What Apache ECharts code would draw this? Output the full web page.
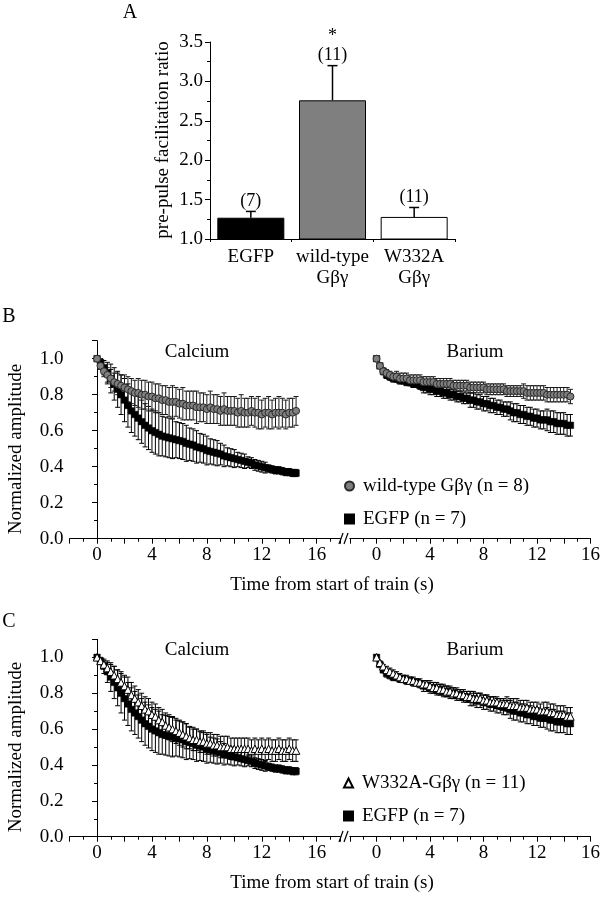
<!DOCTYPE html>
<html>
<head>
<meta charset="utf-8">
<script src="https://cdn.jsdelivr.net/npm/echarts@6/dist/echarts.min.js"></script>
<style>html,body{margin:0;padding:0;background:#fff;}#c{width:603px;height:899px;}</style>
</head>
<body>
<div id="c"></div>
<script>
// ---------- Panel A data ----------
const barCats = ['EGFP', 'wild-type\nGβγ', 'W332A\nGβγ'];
const barMeans = [1.27, 2.76, 1.28];
const barErrs = [0.08, 0.44, 0.12];
const barN = ['(7)', '(11)', '(11)'];
const barSig = ['', '*', ''];

// ---------- Panels B / C data (time in s) ----------
const times = [0,0.25,0.5,0.75,1,1.25,1.5,1.75,2,2.25,2.5,2.75,3,3.25,3.5,3.75,4,4.25,4.5,4.75,5,5.25,5.5,5.75,6,6.25,6.5,6.75,7,7.25,7.5,7.75,8,8.25,8.5,8.75,9,9.25,9.5,9.75,10,10.25,10.5,10.75,11,11.25,11.5,11.75,12,12.25,12.5,12.75,13,13.25,13.5,13.75,14,14.25,14.5];

const egfpCa = [1.00,0.98,0.95,0.92,0.89,0.86,0.83,0.80,0.77,0.74,
  0.71,0.69,0.67,0.65,0.63,0.615,0.60,0.59,0.58,0.57,
  0.565,0.56,0.555,0.55,0.545,0.54,0.53,0.525,0.52,0.51,
  0.505,0.50,0.49,0.485,0.48,0.475,0.47,0.46,0.455,0.45,
  0.445,0.44,0.435,0.43,0.425,0.42,0.41,0.405,0.40,0.395,
  0.39,0.385,0.38,0.38,0.375,0.37,0.37,0.365,0.365];
const egfpCaErr = [0,0.02,0.04,0.06,0.08,0.09,0.10,0.11,0.12,0.12,
  0.12,0.12,0.12,0.12,0.12,0.12,0.12,0.12,0.12,0.11,
  0.11,0.11,0.11,0.10,0.10,0.10,0.10,0.09,0.09,0.09,
  0.08,0.08,0.08,0.07,0.07,0.07,0.06,0.06,0.05,0.05,
  0.05,0.04,0.04,0.04,0.03,0.03,0.03,0.03,0.03,0.03,
  0.02,0.02,0.02,0.02,0.02,0.02,0.02,0.02,0.02];

const wtCa = [1.00,0.96,0.93,0.91,0.89,0.87,0.86,0.85,0.84,0.83,
  0.82,0.81,0.81,0.80,0.80,0.79,0.79,0.78,0.78,0.77,
  0.77,0.76,0.76,0.76,0.75,0.75,0.74,0.74,0.74,0.73,
  0.73,0.73,0.72,0.73,0.72,0.72,0.71,0.72,0.71,0.71,
  0.71,0.70,0.71,0.70,0.70,0.71,0.70,0.70,0.69,0.70,
  0.70,0.69,0.70,0.70,0.70,0.69,0.70,0.70,0.71];
const wtCaErr = [0,0.02,0.03,0.04,0.05,0.05,0.06,0.06,0.07,0.07,
  0.07,0.07,0.08,0.08,0.08,0.08,0.08,0.08,0.08,0.08,
  0.08,0.08,0.09,0.08,0.08,0.09,0.08,0.08,0.08,0.09,
  0.08,0.08,0.08,0.09,0.08,0.08,0.08,0.09,0.08,0.08,
  0.08,0.08,0.09,0.08,0.08,0.08,0.08,0.09,0.08,0.08,
  0.09,0.08,0.08,0.09,0.08,0.08,0.08,0.08,0.08];

const wtBa = [1.00,0.96,0.93,0.92,0.91,0.90,0.90,0.89,0.89,0.89,
  0.88,0.88,0.88,0.88,0.87,0.87,0.87,0.87,0.86,0.86,
  0.86,0.86,0.86,0.85,0.85,0.85,0.85,0.85,0.84,0.84,
  0.84,0.84,0.84,0.83,0.83,0.83,0.83,0.83,0.83,0.82,
  0.82,0.82,0.82,0.82,0.82,0.81,0.81,0.81,0.81,0.81,
  0.81,0.80,0.80,0.80,0.80,0.80,0.80,0.80,0.79];
const wtBaErr = [0,0.01,0.02,0.02,0.02,0.02,0.03,0.03,0.03,0.03,
  0.03,0.03,0.03,0.03,0.03,0.03,0.03,0.03,0.03,0.03,
  0.03,0.03,0.03,0.03,0.03,0.03,0.03,0.03,0.03,0.03,
  0.03,0.03,0.03,0.03,0.03,0.03,0.03,0.03,0.03,0.03,
  0.03,0.03,0.03,0.03,0.04,0.04,0.04,0.04,0.04,0.04,
  0.04,0.04,0.04,0.04,0.04,0.04,0.04,0.04,0.04];

const egfpBa = [1.00,0.96,0.93,0.91,0.90,0.89,0.89,0.88,0.88,0.87,
  0.87,0.86,0.86,0.85,0.84,0.84,0.83,0.83,0.82,0.82,
  0.81,0.81,0.80,0.80,0.79,0.79,0.78,0.78,0.77,0.77,
  0.76,0.76,0.75,0.75,0.74,0.74,0.73,0.73,0.72,0.72,
  0.71,0.70,0.70,0.69,0.69,0.68,0.68,0.67,0.67,0.66,
  0.66,0.66,0.65,0.65,0.64,0.64,0.64,0.63,0.63];
const egfpBaErr = [0,0.01,0.01,0.02,0.02,0.02,0.02,0.02,0.02,0.02,
  0.02,0.02,0.02,0.02,0.03,0.03,0.03,0.03,0.03,0.03,
  0.03,0.03,0.03,0.03,0.03,0.03,0.03,0.03,0.04,0.04,
  0.04,0.04,0.04,0.04,0.04,0.04,0.04,0.04,0.04,0.04,
  0.05,0.05,0.05,0.05,0.05,0.05,0.05,0.05,0.05,0.05,
  0.05,0.06,0.06,0.06,0.06,0.06,0.06,0.06,0.06];

const w332aCa = [1.00,0.98,0.96,0.94,0.92,0.90,0.88,0.86,0.84,0.82,
  0.79,0.77,0.75,0.73,0.71,0.70,0.68,0.67,0.65,0.64,
  0.62,0.61,0.60,0.59,0.58,0.57,0.56,0.55,0.54,0.54,
  0.53,0.53,0.52,0.52,0.51,0.51,0.50,0.50,0.50,0.49,
  0.49,0.49,0.49,0.49,0.49,0.48,0.49,0.48,0.49,0.48,
  0.49,0.48,0.48,0.49,0.48,0.48,0.49,0.48,0.48];
const w332aCaErr = [0,0.01,0.02,0.03,0.04,0.05,0.05,0.06,0.06,0.07,
  0.07,0.07,0.07,0.07,0.07,0.07,0.07,0.07,0.07,0.07,
  0.07,0.07,0.07,0.07,0.07,0.07,0.07,0.06,0.06,0.06,
  0.06,0.06,0.06,0.06,0.06,0.06,0.06,0.06,0.06,0.06,
  0.06,0.06,0.06,0.06,0.06,0.06,0.06,0.06,0.06,0.06,
  0.06,0.06,0.06,0.06,0.06,0.06,0.06,0.06,0.06];

const w332aBa = [1.00,0.97,0.95,0.93,0.92,0.91,0.90,0.89,0.88,0.88,
  0.87,0.87,0.86,0.86,0.85,0.85,0.84,0.83,0.83,0.82,
  0.82,0.81,0.81,0.80,0.80,0.79,0.79,0.78,0.78,0.77,
  0.77,0.77,0.76,0.76,0.75,0.75,0.75,0.74,0.74,0.74,
  0.73,0.73,0.73,0.72,0.72,0.72,0.71,0.71,0.71,0.70,
  0.70,0.70,0.69,0.69,0.68,0.68,0.68,0.67,0.67];
const w332aBaErr = [0,0.01,0.01,0.02,0.02,0.02,0.02,0.02,0.02,0.02,
  0.02,0.02,0.02,0.02,0.02,0.02,0.03,0.03,0.03,0.03,
  0.03,0.03,0.03,0.03,0.03,0.03,0.03,0.03,0.03,0.03,
  0.03,0.03,0.03,0.03,0.03,0.03,0.03,0.03,0.03,0.04,
  0.04,0.04,0.04,0.04,0.04,0.04,0.04,0.04,0.04,0.04,
  0.05,0.05,0.05,0.05,0.05,0.05,0.05,0.05,0.05];

const xTickLabels = [0, 4, 8, 12, 16];

const NAME_WT = 'wild-type Gβγ (n = 8)';
const NAME_EGFP = 'EGFP (n = 7)';
const NAME_W = 'W332A-Gβγ (n = 11)';
const FONT = 'Liberation Serif';
const FS = 19;

function pts(arr) { return times.map((t, i) => [t, arr[i]]); }
function errPts(arr, err) { return times.map((t, i) => [t, arr[i], err[i]]); }

function errRender(hw, color) {
  return function (params, api) {
    const x = api.value(0), m = api.value(1), e = api.value(2);
    const top = api.coord([x, m + e]);
    const bot = api.coord([x, m - e]);
    const st = { stroke: color, lineWidth: 1 };
    return {
      type: 'group', children: [
        { type: 'line', shape: { x1: top[0], y1: top[1], x2: bot[0], y2: bot[1] }, style: st },
        { type: 'line', shape: { x1: top[0] - hw, y1: top[1], x2: top[0] + hw, y2: top[1] }, style: st },
        { type: 'line', shape: { x1: bot[0] - hw, y1: bot[1], x2: bot[0] + hw, y2: bot[1] }, style: st }
      ]
    };
  };
}

function errSeries(name, arr, err, gi, color) {
  return {
    type: 'custom', name: name, xAxisIndex: gi, yAxisIndex: gi,
    renderItem: errRender(2.5, color || '#000'), data: errPts(arr, err),
    encode: { x: 0, y: 1 }, silent: true, clip: false, z: 2
  };
}
const markStyles = {
  wt: { symbol: 'circle', symbolSize: 7, itemStyle: { color: '#7f7f7f', borderColor: '#2a2a2a', borderWidth: 1, opacity: 1 } },
  egfp: { symbol: 'rect', symbolSize: 6.5, itemStyle: { color: '#000', borderColor: '#000', borderWidth: 0.5, opacity: 1 } },
  w: { symbol: 'triangle', symbolSize: 7.5, itemStyle: { color: '#fff', borderColor: '#000', borderWidth: 1, opacity: 1 } }
};
function markSeries(name, arr, gi, key) {
  const s = markStyles[key];
  return {
    type: 'scatter', name: name, xAxisIndex: gi, yAxisIndex: gi, data: pts(arr),
    symbol: s.symbol, symbolSize: s.symbolSize, itemStyle: s.itemStyle, z: 3, silent: true
  };
}

function timeAxis(gi, min, max) {
  return {
    type: 'value', gridIndex: gi, min: min, max: max, interval: 2,
    axisLine: { show: true, onZero: false, lineStyle: { color: '#000', width: 1 } },
    axisTick: { show: true, length: 5, lineStyle: { color: '#000' } },
    minorTick: { show: true, splitNumber: 2, length: 3, lineStyle: { color: '#000' } },
    splitLine: { show: false },
    axisLabel: {
      margin: 7, fontFamily: FONT, fontSize: FS, color: '#000',
      formatter: v => (xTickLabels.indexOf(Math.round(v * 1000) / 1000) >= 0 ? String(Math.round(v)) : '')
    }
  };
}
function ampAxis(gi, show) {
  return {
    type: 'value', gridIndex: gi, min: 0, max: 1.1, interval: 0.2, show: show,
    axisLine: { show: true, lineStyle: { color: '#000', width: 1 } },
    axisTick: { show: true, length: 5, lineStyle: { color: '#000' } },
    minorTick: { show: true, splitNumber: 2, length: 3, lineStyle: { color: '#000' } },
    splitLine: { show: false },
    axisLabel: {
      margin: 6, fontFamily: FONT, fontSize: FS, color: '#000',
      formatter: v => (Math.abs(v * 5 - Math.round(v * 5)) < 1e-6 ? v.toFixed(1) : '')
    }
  };
}

const txt = (x, y, text, extra) => Object.assign({
  type: 'text', x: x, y: y,
  style: Object.assign({ text: text, fontFamily: FONT, fontSize: FS, fill: '#000', align: 'center', verticalAlign: 'middle' }, (extra && extra.style) || {})
}, extra && extra.rotation !== undefined ? { rotation: extra.rotation } : {});

const chart = echarts.init(document.getElementById('c'), null, { renderer: 'canvas' });
const option = {
  animation: false,
  backgroundColor: '#fff',
  grid: [
    { left: 210, top: 42, width: 245, height: 197 },
    { left: 69.6, top: 340.7, width: 270.4, height: 198 },
    { left: 349.8, top: 340.7, width: 244.8, height: 198 },
    { left: 69.6, top: 639.4, width: 270.4, height: 197.3 },
    { left: 349.8, top: 639.4, width: 244.8, height: 197.3 }
  ],
  xAxis: [
    {
      type: 'category', gridIndex: 0, data: barCats,
      axisLine: { show: true, lineStyle: { color: '#000', width: 1 } },
      axisTick: { show: true, length: 3, lineStyle: { color: '#000' } },
      axisLabel: { interval: 0, margin: 8, fontFamily: FONT, fontSize: FS, color: '#000', lineHeight: 21 }
    },
    timeAxis(1, -2, 17.7),
    timeAxis(2, -2, 16),
    timeAxis(3, -2, 17.7),
    timeAxis(4, -2, 16)
  ],
  yAxis: [
    {
      type: 'value', gridIndex: 0, min: 1, max: 3.5, interval: 0.5,
      axisLine: { show: true, lineStyle: { color: '#000', width: 1 } },
      axisTick: { show: true, length: 5, lineStyle: { color: '#000' } },
      minorTick: { show: true, splitNumber: 2, length: 3, lineStyle: { color: '#000' } },
      splitLine: { show: false },
      axisLabel: { margin: 7, fontFamily: FONT, fontSize: FS, color: '#000', formatter: v => v.toFixed(1) }
    },
    ampAxis(1, true),
    ampAxis(2, false),
    ampAxis(3, true),
    ampAxis(4, false)
  ],
  legend: [
    {
      data: [{ name: NAME_WT, icon: 'circle' }, { name: NAME_EGFP, icon: 'rect' }],
      orient: 'vertical', left: 339, top: 471, itemWidth: 9, itemHeight: 9, itemGap: 13,
      selectedMode: false,
      textStyle: { fontFamily: FONT, fontSize: FS, color: '#000', lineHeight: 20, padding: [0, 0, 0, 4] }
    },
    {
      data: [{ name: NAME_W, icon: 'triangle' }, { name: NAME_EGFP, icon: 'rect' }],
      orient: 'vertical', left: 338, top: 768, itemWidth: 9, itemHeight: 9, itemGap: 13,
      selectedMode: false,
      textStyle: { fontFamily: FONT, fontSize: FS, color: '#000', lineHeight: 20, padding: [0, 0, 0, 4] }
    }
  ],
  series: [
    // Panel A
    {
      type: 'bar', xAxisIndex: 0, yAxisIndex: 0, barWidth: 67, silent: true,
      data: barMeans.map((v, i) => ({
        value: v,
        itemStyle: { color: ['#000000', '#7f7f7f', '#ffffff'][i], borderColor: '#000', borderWidth: 1 }
      })),
      z: 2
    },
    {
      type: 'custom', xAxisIndex: 0, yAxisIndex: 0, silent: true, z: 3,
      data: barMeans.map((v, i) => [i, v, barErrs[i]]),
      encode: { x: 0, y: 1 },
      renderItem: function (params, api) {
        const i = api.value(0), m = api.value(1), e = api.value(2);
        const p0 = api.coord([i, m]), p1 = api.coord([i, m + e]);
        const st = { stroke: '#000', lineWidth: 1.5 };
        return {
          type: 'group', children: [
            { type: 'line', shape: { x1: p0[0], y1: p0[1], x2: p1[0], y2: p1[1] }, style: st },
            { type: 'line', shape: { x1: p1[0] - 5, y1: p1[1], x2: p1[0] + 5, y2: p1[1] }, style: st }
          ]
        };
      }
    },
    {
      type: 'scatter', xAxisIndex: 0, yAxisIndex: 0, silent: true, symbolSize: 0, z: 4,
      itemStyle: { opacity: 1, color: '#000' },
      data: barMeans.map((v, i) => [i, v + barErrs[i]]),
      label: {
        show: true, position: 'top', distance: 1, fontFamily: FONT, fontSize: 18, color: '#000', lineHeight: 19,
        formatter: p => (barSig[p.dataIndex] ? barSig[p.dataIndex] + '\n' : '') + barN[p.dataIndex]
      }
    },
    // Panel B calcium
    errSeries('e1', egfpCa, egfpCaErr, 1),
    markSeries(NAME_EGFP, egfpCa, 1, 'egfp'),
    errSeries('e2', wtCa, wtCaErr, 1, '#1a1a1a'),
    markSeries(NAME_WT, wtCa, 1, 'wt'),
    // Panel B barium
    errSeries('e3', egfpBa, egfpBaErr, 2),
    markSeries(NAME_EGFP, egfpBa, 2, 'egfp'),
    errSeries('e4', wtBa, wtBaErr, 2, '#1a1a1a'),
    markSeries(NAME_WT, wtBa, 2, 'wt'),
    // Panel C calcium
    errSeries('e5', egfpCa, egfpCaErr, 3),
    markSeries(NAME_EGFP, egfpCa, 3, 'egfp'),
    errSeries('e6', w332aCa, w332aCaErr, 3),
    markSeries(NAME_W, w332aCa, 3, 'w'),
    // Panel C barium
    errSeries('e7', egfpBa, egfpBaErr, 4),
    markSeries(NAME_EGFP, egfpBa, 4, 'egfp'),
    errSeries('e8', w332aBa, w332aBaErr, 4),
    markSeries(NAME_W, w332aBa, 4, 'w')
  ],
  graphic: [
    txt(130, 13, 'A', { style: { fontSize: 20 } }),
    txt(9, 317, 'B', { style: { fontSize: 20 } }),
    txt(9, 622, 'C', { style: { fontSize: 20 } }),
    txt(163, 140, 'pre-pulse facilitation ratio', { rotation: Math.PI / 2 }),
    txt(16, 449, 'Normalized amplitude', { rotation: Math.PI / 2 }),
    txt(16, 747, 'Normalized amplitude', { rotation: Math.PI / 2 }),
    txt(197, 352, 'Calcium'),
    txt(475, 352, 'Barium'),
    txt(197, 650, 'Calcium'),
    txt(475, 650, 'Barium'),
    txt(332, 585, 'Time from start of train (s)'),
    txt(332, 883, 'Time from start of train (s)'),
    // axis-break marks
    { type: 'line', shape: { x1: 339, y1: 544, x2: 343, y2: 533 }, style: { stroke: '#000', lineWidth: 1.2 } },
    { type: 'line', shape: { x1: 344, y1: 544, x2: 348, y2: 533 }, style: { stroke: '#000', lineWidth: 1.2 } },
    { type: 'line', shape: { x1: 339, y1: 842, x2: 343, y2: 831 }, style: { stroke: '#000', lineWidth: 1.2 } },
    { type: 'line', shape: { x1: 344, y1: 842, x2: 348, y2: 831 }, style: { stroke: '#000', lineWidth: 1.2 } }
  ]
};
chart.setOption(option);
</script>
</body>
</html>
